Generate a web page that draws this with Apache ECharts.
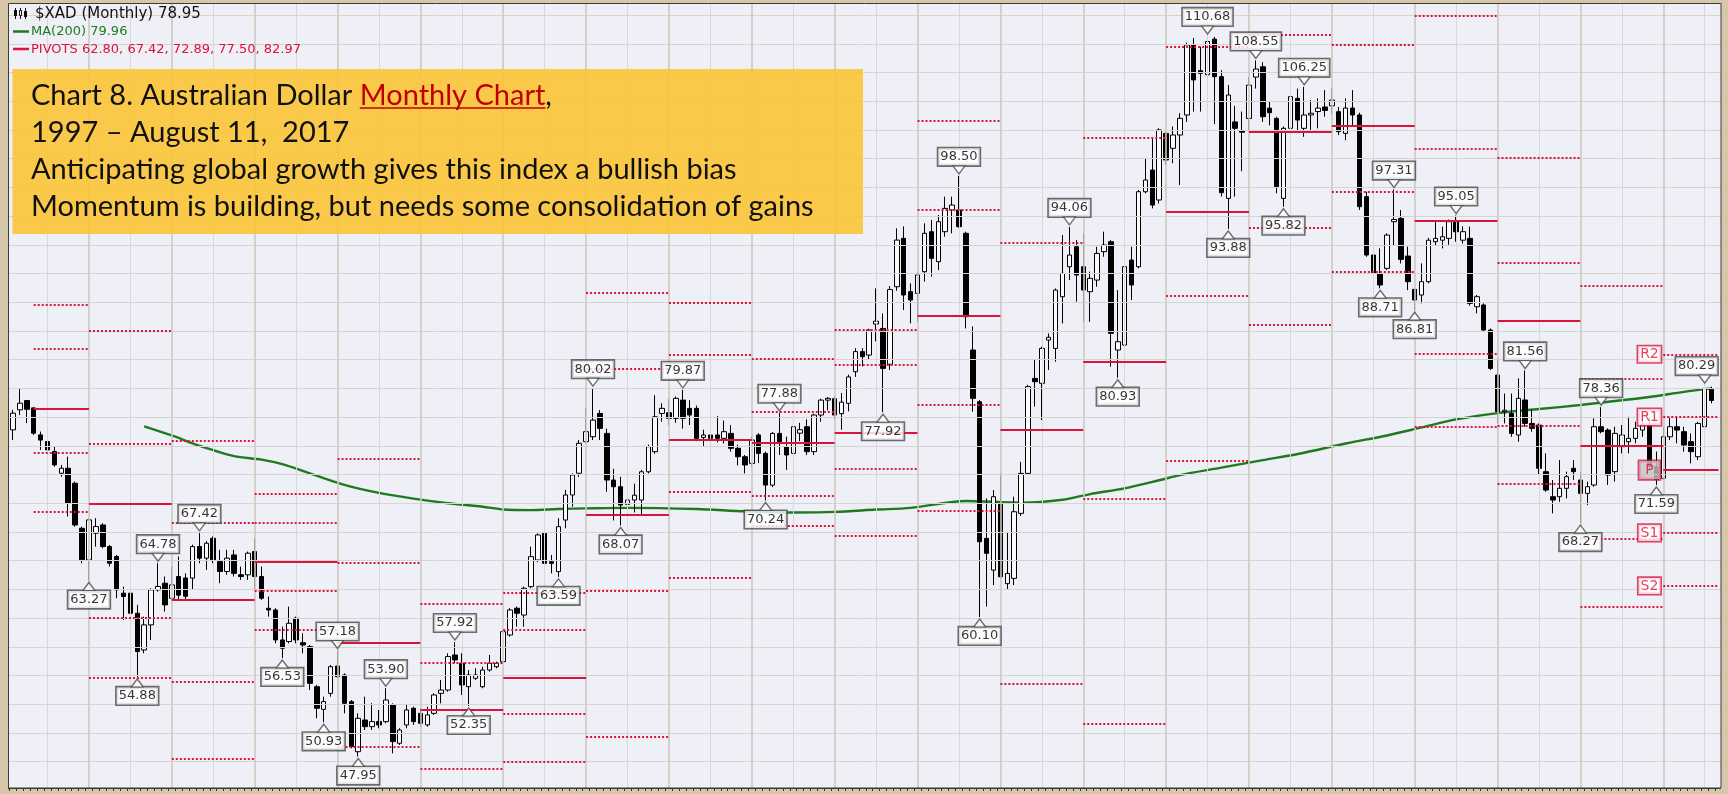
<!DOCTYPE html>
<html><head><meta charset="utf-8">
<script src="https://cdn.jsdelivr.net/npm/echarts@6/dist/echarts.min.js"></script>
<style>html,body{margin:0;padding:0;background:#d6c7a9;}#chart{width:1728px;height:794px;}</style>
</head><body><div id="chart"></div>
<script>
// ---------- DATA (monthly $XAD, index 0 = Jan 1997) ----------
const startYear = 1997;
const opens = [null,76.39,78.13,78.94,78.3,75.95,75.37,74.5,72.61,73.05,71.74,67.82,
65.07,67.39,68.11,66.23,65.36,62.17,62.17,60.42,57.23,59.41,62.46,63.04,
61.73,63.62,63.5,63.48,66.23,65.22,66.95,64.92,64.06,65.5,63.77,63.77,
65.79,63.62,60.86,60.71,58.1,57.96,59.99,57.86,57.52,54.03,52.06,53.45,
55.83,55.05,52.73,48.37,51.13,50.55,50.99,50.99,52.44,49.1,50.7,52.15,
51.71,50.7,51.71,53.45,53.74,56.79,56.07,54.03,54.76,54.03,55.48,55.77,
56.21,58.53,60.86,60.27,62.74,65.06,67.38,64.91,64.05,68.54,70.72,72.61,
75.36,75.79,77.82,76.08,72.02,71.44,69.9,70.28,70.28,72.74,74.49,77.82,
77.88,77.39,78.98,78.26,78.26,75.73,75.94,75.94,75.65,76.08,74.78,74.05,
73.47,75.94,74.34,71.58,76.08,74.92,74.34,76.1,76.66,74.49,77.68,78.98,
79.1,77.8,78.7,81.45,83.2,82.9,85.6,85.22,82.1,88.85,93.06,88.42,
88.27,90.16,93.64,91.03,93.64,95.53,95.53,93.5,83.34,78.84,66.94,64.18,
69.99,63.0,63.46,69.12,72.6,80.87,80.44,84.21,83.48,87.98,90.59,92.33,
90.59,88.42,89.43,91.9,92.77,83.34,83.77,91.17,90.59,97.12,99.01,96.4,
102.2,100.9,102.06,103.8,109.9,107.66,107.3,110.4,107.14,96.54,103.2,102.4,
103.5,107.1,108.0,104.4,103.5,96.54,102.64,105.25,102.64,103.8,104.1,104.5,
104.6,104.09,102.2,104.4,103.8,96.69,91.61,90.01,90.45,94.51,94.8,91.52,
88.62,88.13,89.29,92.77,92.9,93.06,94.51,92.9,93.06,87.11,87.26,85.08,
81.16,77.97,77.82,75.94,78.99,76.95,76.81,72.75,70.57,70.57,71.3,73.04,
72.02,70.86,71.59,76.66,76.37,72.75,74.92,75.36,75.65,76.37,76.81,73.18,
72.17,75.79,76.66,76.23,75.36,74.05,76.66,79.91];
const closes = [null,77.84,78.71,78.18,76.1,75.5,74.64,73.34,73.05,70.0,68.11,65.07,
68.55,67.97,66.23,64.78,62.46,61.88,60.42,57.09,59.41,62.46,62.75,61.15,
62.89,62.0,61.9,66.23,65.22,66.52,65.07,64.06,65.22,63.9,63.62,65.65,
63.62,61.73,60.71,58.1,57.38,59.55,58.1,57.66,54.32,52.15,52.73,55.77,
54.9,52.58,48.81,51.28,50.55,50.99,50.7,52.87,49.25,50.26,52.0,50.99,
50.84,51.57,53.31,53.74,56.65,56.36,54.18,55.05,55.05,55.48,56.07,56.07,
58.82,60.71,60.42,62.6,65.35,67.24,64.77,64.77,67.96,70.72,72.46,75.22,
76.23,77.24,76.52,72.02,71.44,69.84,70.28,70.7,72.74,74.92,77.53,78.26,
77.39,79.13,77.39,77.68,75.65,75.94,75.65,75.65,76.23,74.78,74.05,73.33,
75.5,74.34,71.58,76.08,75.36,74.2,76.66,76.4,74.49,77.68,78.98,79.13,
77.68,78.8,81.0,83.2,82.76,85.08,85.85,81.74,88.6,92.91,88.13,87.69,
89.87,93.5,91.32,94.51,95.67,95.96,94.08,86.24,79.13,66.65,65.64,70.57,
63.6,63.89,69.26,72.6,80.15,80.58,83.48,84.45,88.56,90.01,91.61,89.87,
88.56,89.58,91.75,92.48,84.79,84.06,90.59,89.0,97.12,98.14,95.96,102.5,
99.88,102.06,103.51,109.9,106.85,107.43,110.2,107.14,97.04,105.54,102.64,102.3,
106.4,107.8,103.65,104.0,97.56,102.64,105.4,103.36,103.8,103.95,104.4,104.2,
105.1,102.35,104.4,103.8,95.82,91.61,90.01,89.0,93.35,94.7,91.23,89.29,
87.69,89.29,92.9,93.06,93.2,94.51,93.64,93.64,87.4,87.98,85.08,81.74,
77.97,78.1,76.08,79.13,76.95,76.52,73.04,71.15,70.28,71.3,72.31,72.75,
70.86,71.44,76.66,76.23,72.46,76.08,75.94,75.65,76.52,76.81,73.18,72.05,
75.79,76.66,76.37,75.07,74.49,76.95,80.0,78.95];
const lows = [null,75.51,77.69,76.97,75.95,74.64,73.77,73.19,72.31,68.84,67.96,64.78,
63.27,66.23,66.08,64.49,61.73,59.84,59.26,54.88,56.94,58.1,62.31,60.57,
61.59,61.59,61.59,62.46,64.78,64.2,64.78,63.04,63.77,63.62,63.33,63.33,
62.46,61.59,60.13,57.81,56.53,57.81,57.81,56.94,53.74,51.28,50.93,53.16,
54.76,51.71,48.66,47.95,50.26,50.26,50.41,50.84,48.23,48.96,50.41,50.7,
50.55,50.55,51.57,52.58,53.6,56.07,53.31,52.35,54.61,53.89,55.34,55.63,
56.07,58.39,59.26,59.26,62.6,64.9,64.63,63.9,63.59,67.82,69.71,72.3,
75.21,75.5,75.5,71.0,68.5,68.07,68.8,69.2,68.9,72.6,74.3,77.1,
76.8,77.0,76.5,76.81,75.4,74.9,74.3,75.3,75.2,74.5,73.3,72.6,
73.2,73.5,70.24,71.4,74.2,72.9,73.8,75.4,74.2,74.2,77.1,78.1,
77.3,76.4,78.0,81.0,81.9,82.5,84.1,77.92,81.6,88.5,86.82,85.66,
85.8,89.29,89.72,90.3,93.2,93.5,94.0,85.22,77.97,60.1,61.0,62.88,
63.46,62.5,62.88,68.9,72.46,78.41,77.24,81.6,82.32,85.66,89.43,87.55,
85.8,85.8,88.85,91.46,81.89,80.93,83.63,87.69,90.45,96.98,95.67,96.1,
99.45,99.6,97.7,103.2,104.1,104.1,105.7,103.0,96.7,93.88,96.7,98.9,
102.35,106.1,103.2,102.9,96.98,95.82,101.0,102.35,101.9,102.35,102.64,103.65,
103.9,102.06,101.6,102.9,95.53,91.46,89.72,88.71,90.3,92.48,90.88,88.56,
86.81,87.4,89.15,92.48,92.19,92.5,92.77,92.6,87.2,86.53,84.93,81.6,
76.95,76.95,75.79,75.36,76.66,76.23,72.46,71.0,69.12,70.13,70.42,72.02,
68.27,69.84,71.44,76.08,71.59,71.88,74.34,74.34,75.21,75.79,72.9,71.59,
72.02,75.5,75.21,74.49,73.47,73.76,75.79,78.7];
const highs = [null,78.13,80.01,79.0,78.36,76.24,75.51,74.93,73.34,74.06,71.89,67.96,
68.7,68.7,68.26,66.37,65.5,62.75,63.33,61.15,60.13,62.6,64.78,63.62,
64.49,65.36,63.9,66.4,67.42,66.7,67.1,65.94,65.94,65.94,64.49,65.79,
66.95,64.49,61.88,60.86,59.26,61.0,60.13,58.68,57.66,54.18,53.16,55.92,
57.18,55.19,52.87,51.71,53.16,52.6,52.0,53.9,52.58,50.41,52.44,52.29,
52.15,52.29,53.45,54.61,56.94,57.92,56.94,55.48,55.63,55.77,56.79,56.21,
58.97,60.86,61.0,62.74,66.22,67.38,68.4,65.5,68.69,71.16,72.61,75.5,
78.26,80.02,78.11,76.5,73.0,72.3,72.6,71.7,72.9,75.1,79.4,78.7,
79.1,79.3,79.87,78.98,78.5,76.4,77.0,77.6,77.2,76.8,75.1,74.2,
75.8,76.1,74.5,76.2,77.88,75.8,76.8,77.0,77.3,77.8,79.1,79.25,
79.3,79.6,81.2,83.5,83.5,85.2,88.7,86.53,88.9,93.93,94.1,89.14,
90.16,94.37,94.66,95.09,96.69,96.69,98.5,93.64,85.4,78.99,70.42,71.15,
72.6,67.5,70.57,73.6,80.3,82.47,83.63,84.79,88.7,93.35,94.06,92.91,
93.5,90.16,92.33,93.64,92.91,88.56,90.74,92.33,97.27,100.02,101.8,102.64,
102.35,102.8,103.95,110.1,110.5,109.75,110.68,110.6,107.7,106.4,104.6,104.1,
107.1,108.55,108.4,105.0,103.65,102.8,105.7,106.1,106.25,105.1,105.25,105.97,
106.1,104.5,105.25,105.97,104.0,97.12,93.06,92.19,93.5,97.31,95.53,92.33,
88.71,90.88,93.1,94.51,94.08,94.7,95.05,94.1,94.08,88.13,87.4,85.22,
82.6,79.55,79.55,80.87,81.56,78.15,76.95,74.34,72.02,73.76,72.75,73.76,
72.75,71.88,77.39,78.36,76.52,76.66,76.81,77.53,77.1,77.68,77.53,74.5,
76.66,77.53,77.53,76.66,76.08,77.1,80.29,80.15];

// 200-period moving average, read at sample months
const maIdx = [20,24,28,33,37,40,44,49,54,59,64,69,72,76,80,84,90,100,107,114,120,126,131,139,147,153,157,162,167,170,176,182,188,194,200,205,210,216,222,228,233,238,243,247];
const maVal = [76.7,75.9,75.0,74.1,73.8,73.4,72.6,71.6,70.9,70.4,70.0,69.7,69.45,69.4,69.5,69.55,69.6,69.5,69.3,69.2,69.25,69.45,69.6,70.2,70.05,70.3,70.8,71.3,72.0,72.45,73.1,73.75,74.4,75.2,75.9,76.6,77.3,77.85,78.2,78.55,78.9,79.25,79.7,80.0];

// Annual pivot levels 1997..2017
const pivotYears = [1997,1998,1999,2000,2001,2002,2003,2004,2005,2006,2007,2008,2009,2010,2011,2012,2013,2014,2015,2016,2017];
const pivotP  = [78.27,69.94,61.58,64.92,57.88,52.04,54.85,68.97,75.5,75.27,76.14,86.33,76.4,82.32,95.38,102.35,102.85,94.55,85.89,74.98,72.89];
const pivotR1 = [83.46,75.14,68.28,68.26,64.83,56.13,59.02,81.74,82.93,77.94,82.03,95.53,92.7,101.85,109.77,110.82,109.88,100.82,90.94,80.87,77.50];
const pivotR2 = [87.32,85.03,75.4,70.81,73.9,61.27,62.22,88.3,87.45,82.54,85.14,103.31,114.8,113.8,117.08,119.15,115.58,112.4,100.1,88.94,82.97];
const pivotS1 = [74.41,60.05,54.46,62.37,48.81,46.9,51.65,62.41,70.98,70.67,73.03,78.55,54.3,70.37,88.07,94.02,97.15,82.98,76.73,66.91,67.42];
const pivotS2 = [69.22,54.85,47.76,59.03,41.86,42.81,47.48,49.64,63.55,68.0,67.14,69.35,38.0,50.84,73.68,85.55,90.12,76.7,71.68,61.02,62.80];

// Annotated swing highs / lows (month indexes)
const highLabelIdx = [22,28,48,55,65,85,98,112,138,154,174,181,188,201,210,220,231,246];
const lowLabelIdx  = [12,19,40,46,51,67,80,89,110,127,141,161,177,185,199,204,228,239];

// Horizontal grid levels
const gridLevels = [47.5,50,52.5,55,57.5,60,62.5,65,67.5,70,72.5,75,77.5,80,82.5,85,87.5,90,92.5,95,97.5,100,102.5,105,107.5,110,112.5];

// ---------- BUILD ----------
const N = 249; // Jan 1997 .. Sep 2017
const months = [];
for (let i = 0; i < N; i++) {
  const y = startYear + Math.floor(i / 12), m = i % 12 + 1;
  months.push(y + '-' + String(m).padStart(2, '0'));
}
const candleData = months.map((_, i) => (i < opens.length && opens[i] != null) ? [opens[i], closes[i], lows[i], highs[i]] : '-');
const yMin = 45.21, yMax = 113.55;
const RED = '#dc143c';

const gridLines = [];
gridLevels.forEach(v => gridLines.push({ yAxis: v, lineStyle: { color: '#d5d5d2', width: 1, type: 'solid' } }));
for (let i = 6; i < N; i += 6) {
  const isYear = (i % 12 === 0);
  gridLines.push({ xAxis: months[i], lineStyle: { color: isYear ? '#cdcac0' : '#d8d8d4', width: isYear ? 1.6 : 1, type: 'solid' } });
}

const pivotLines = [];
const levelSets = [[pivotP, 'solid'], [pivotR1, 'dot'], [pivotR2, 'dot'], [pivotS1, 'dot'], [pivotS2, 'dot']];
pivotYears.forEach((yr, k) => {
  let s = (yr - startYear) * 12;
  if (yr === startYear) s = 4;
  let e = (yr - startYear + 1) * 12;
  if (e > N - 1) e = N - 1;
  levelSets.forEach(([arr, kind]) => {
    const v = arr[k];
    if (v < yMin || v > yMax) return;
    pivotLines.push([
      { coord: [months[s], v], lineStyle: kind === 'solid' ? { color: RED, width: 2, type: 'solid' } : { color: RED, width: 2, type: [2, 2] } },
      { coord: [months[e], v] }
    ]);
  });
});

const maData = maIdx.map((i, k) => [months[i], maVal[k]]);
const lastIdx = opens.length - 1;
// the label box nearest the right edge is nudged left to stay inside the plot
const highPts = highLabelIdx.map(i => i >= lastIdx - 1
  ? { value: [months[i], highs[i]], label: { offset: [-8, -19] } }
  : [months[i], highs[i]]);
const highTriPts = highLabelIdx.map(i => [months[i], highs[i]]);
const lowPts = lowLabelIdx.map(i => [months[i], lows[i]]);

const boxLabel = {
  show: true, position: 'inside', color: '#000', fontSize: 13, fontFamily: 'DejaVu Sans',
  backgroundColor: '#ffffff', borderColor: '#4a4a4a', borderWidth: 1.6, padding: [2, 2, 1, 2], lineHeight: 14,
  formatter: p => p.value[1].toFixed(2)
};

const tagIdx = 238;
const tagNames = ['R2', 'R1', 'P', 'S1', 'S2'];
const k17 = pivotYears.indexOf(2017);
const tagVals = [pivotR2[k17], pivotR1[k17], pivotP[k17], pivotS1[k17], pivotS2[k17]];
const tagData = tagNames.map((n, j) => ({
  value: [months[tagIdx], tagVals[j]], name: n,
  label: { backgroundColor: n === 'P' ? '#c4c4c4' : '#ffffff', padding: n === 'P' ? [2, 6, 1, 6] : [1, 2, 0, 2] }
}));

// text measurement for the yellow note
const mctx = document.createElement('canvas').getContext('2d');
function tw(t, f) { mctx.font = f; return mctx.measureText(t).width; }
const noteL1a = 'Chart 8. Australian Dollar ', noteL1b = 'Monthly Chart', noteL1c = ',';
const noteL2 = '1997 \u2013 August 11,  2017';
const noteL3 = 'Anticipating global growth gives this index a bullish bias';
const noteL4 = 'Momentum is building, but needs some consolidation of gains';
const noteFs = Math.round(100 * 783 / tw(noteL4, '100px Lato') * 10) / 10;
const noteFont = noteFs + 'px Lato';
const nx = 31;
const w1a = tw(noteL1a, noteFont), w1b = tw(noteL1b, noteFont);
const baseY = [105, 142, 179, 216];
const midY = baseY.map(b => b - 0.33 * noteFs);

const graphics = [
  { type: 'rect', z: 40, silent: true, shape: { x: 12.5, y: 69, width: 850.5, height: 165 }, style: { fill: 'rgba(253,196,50,0.88)' } },
  { type: 'text', z: 41, silent: true, x: nx, y: midY[0], style: { text: noteL1a, font: noteFont, fill: '#111', verticalAlign: 'middle' } },
  { type: 'text', z: 41, silent: true, x: nx + w1a, y: midY[0], style: { text: noteL1b, font: noteFont, fill: '#c00000', verticalAlign: 'middle' } },
  { type: 'line', z: 41, silent: true, shape: { x1: nx + w1a, y1: baseY[0] + 3, x2: nx + w1a + w1b, y2: baseY[0] + 3 }, style: { stroke: '#c00000', lineWidth: 1.6 } },
  { type: 'text', z: 41, silent: true, x: nx + w1a + w1b, y: midY[0], style: { text: noteL1c, font: noteFont, fill: '#111', verticalAlign: 'middle' } },
  { type: 'text', z: 41, silent: true, x: nx, y: midY[1], style: { text: noteL2, font: noteFont, fill: '#111', verticalAlign: 'middle' } },
  { type: 'text', z: 41, silent: true, x: nx, y: midY[2], style: { text: noteL3, font: noteFont, fill: '#111', verticalAlign: 'middle' } },
  { type: 'text', z: 41, silent: true, x: nx, y: midY[3], style: { text: noteL4, font: noteFont, fill: '#111', verticalAlign: 'middle' } },
  // header legend
  { type: 'line', z: 41, silent: true, shape: { x1: 15.5, y1: 8, x2: 15.5, y2: 19 }, style: { stroke: '#111', lineWidth: 1 } },
  { type: 'rect', z: 41, silent: true, shape: { x: 14, y: 10, width: 3, height: 6 }, style: { fill: '#111' } },
  { type: 'line', z: 41, silent: true, shape: { x1: 20.5, y1: 8, x2: 20.5, y2: 19 }, style: { stroke: '#111', lineWidth: 1 } },
  { type: 'rect', z: 41, silent: true, shape: { x: 19.5, y: 10.5, width: 2, height: 5 }, style: { fill: '#fff', stroke: '#111', lineWidth: 1 } },
  { type: 'line', z: 41, silent: true, shape: { x1: 25.5, y1: 8, x2: 25.5, y2: 19 }, style: { stroke: '#111', lineWidth: 1 } },
  { type: 'rect', z: 41, silent: true, shape: { x: 24, y: 11, width: 3, height: 6 }, style: { fill: '#111' } },
  { type: 'text', z: 41, silent: true, x: 35, y: 14, style: { text: '$XAD (Monthly) 78.95', font: '15px "DejaVu Sans"', fill: '#111', verticalAlign: 'middle' } },
  { type: 'line', z: 41, silent: true, shape: { x1: 13, y1: 31.5, x2: 29, y2: 31.5 }, style: { stroke: '#1d7a1d', lineWidth: 2.5 } },
  { type: 'text', z: 41, silent: true, x: 31, y: 32, style: { text: 'MA(200) 79.96', font: '13px "DejaVu Sans"', fill: '#1d7a1d', verticalAlign: 'middle' } },
  { type: 'line', z: 41, silent: true, shape: { x1: 13, y1: 49, x2: 29, y2: 49 }, style: { stroke: RED, lineWidth: 2.5 } },
  { type: 'text', z: 41, silent: true, x: 31, y: 50, style: { text: 'PIVOTS 62.80, 67.42, 72.89, 77.50, 82.97', font: '13px "DejaVu Sans"', fill: RED, verticalAlign: 'middle' } },
  // tan edges and frame
  { type: 'rect', z: 60, silent: true, shape: { x: 0, y: 0, width: 8, height: 794 }, style: { fill: '#d6c7a9' } },
  { type: 'rect', z: 60, silent: true, shape: { x: 1721, y: 0, width: 7, height: 794 }, style: { fill: '#d6c7a9' } },
  { type: 'rect', z: 61, silent: true, shape: { x: 8.5, y: 3.5, width: 1712.5, height: 784.5 }, style: { fill: null, stroke: '#3c3c3c', lineWidth: 1 } }
];

const option = {
  animation: false,
  backgroundColor: '#d6c7a9',
  grid: { left: 2.65, top: 3, width: 1719.3, height: 785, show: true, backgroundColor: '#eeeff7', borderWidth: 0 },
  xAxis: {
    type: 'category', data: months, boundaryGap: true,
    axisLabel: { show: false },
    axisTick: { show: true, interval: 0, length: 3, lineStyle: { color: '#333', width: 1 } },
    axisLine: { show: true, lineStyle: { color: '#333', width: 1 } },
    splitLine: { show: false }
  },
  yAxis: {
    type: 'value', min: yMin, max: yMax, position: 'right',
    axisLabel: { show: false }, axisTick: { show: false }, axisLine: { show: false }, splitLine: { show: false }
  },
  series: [
    { name: 'grid', type: 'line', z: 1, silent: true, data: months.map(() => '-'), symbol: 'none',
      markLine: { silent: true, symbol: ['none', 'none'], label: { show: false }, animation: false, data: gridLines } },
    { name: 'pivots', type: 'line', z: 2, silent: true, data: months.map(() => '-'), symbol: 'none',
      markLine: { silent: true, symbol: ['none', 'none'], label: { show: false }, animation: false, data: pivotLines } },
    { name: 'MA(200)', type: 'line', z: 3, silent: true, data: maData, symbol: 'none', smooth: 0.3,
      lineStyle: { color: '#1f7a1f', width: 2.4 } },
    { name: '$XAD', type: 'candlestick', z: 4, silent: true, data: candleData, barWidth: 5,
      itemStyle: { color: '#fbfbfd', color0: '#000000', borderColor: '#000000', borderColor0: '#000000', borderWidth: 1 } },
    { name: 'hiBox', type: 'scatter', z: 6, silent: true, data: highPts, symbol: 'rect', symbolSize: 1,
      itemStyle: { color: 'rgba(0,0,0,0)' }, label: Object.assign({}, boxLabel, { offset: [0, -19] }) },
    { name: 'loBox', type: 'scatter', z: 6, silent: true, data: lowPts, symbol: 'rect', symbolSize: 1,
      itemStyle: { color: 'rgba(0,0,0,0)' }, label: Object.assign({}, boxLabel, { offset: [0, 19] }) },
    { name: 'hiTri', type: 'scatter', z: 7, silent: true, data: highTriPts, symbol: 'triangle', symbolRotate: 180,
      symbolSize: [12, 8], symbolOffset: [0, -6], itemStyle: { color: '#ffffff', borderColor: '#4a4a4a', borderWidth: 1.3 } },
    { name: 'loTri', type: 'scatter', z: 7, silent: true, data: lowPts, symbol: 'triangle',
      symbolSize: [12, 8], symbolOffset: [0, 6], itemStyle: { color: '#ffffff', borderColor: '#4a4a4a', borderWidth: 1.3 } },
    { name: 'tags', type: 'scatter', z: 8, silent: true, data: tagData, symbol: 'rect', symbolSize: 1,
      itemStyle: { color: 'rgba(0,0,0,0)' },
      label: { show: true, position: 'inside', formatter: p => p.name, color: RED, fontSize: 14, fontFamily: 'DejaVu Sans',
        borderColor: RED, borderWidth: 1.6, lineHeight: 15 } }
  ],
  graphic: { elements: graphics }
};

const chart = echarts.init(document.getElementById('chart'), null, { renderer: 'canvas', width: 1728, height: 794 });
chart.setOption(option);
</script>
</body></html>
